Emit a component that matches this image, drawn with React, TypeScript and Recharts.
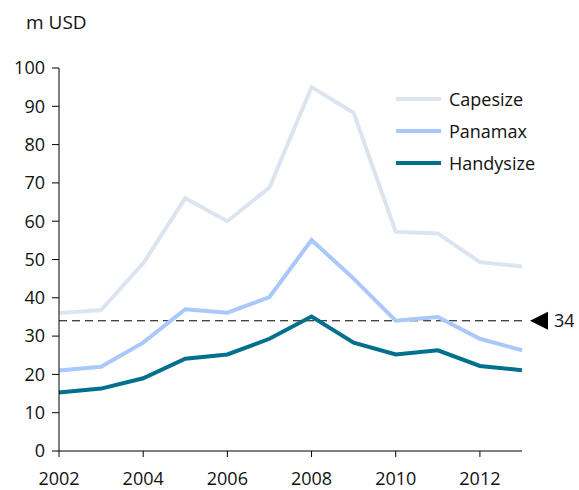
import { LineChart, Line, XAxis, YAxis, ReferenceLine } from "recharts";

const years = [2002, 2003, 2004, 2005, 2006, 2007, 2008, 2009, 2010, 2011, 2012, 2013];
const capesize = [36, 36.8, 49, 66, 60, 68.8, 95, 88.3, 57.2, 56.8, 49.3, 48.2];
const panamax = [21, 22, 28.3, 37, 36.1, 40.2, 55.1, 45, 34, 35, 29.3, 26.3];
const handysize = [15.3, 16.3, 19, 24.1, 25.2, 29.3, 35.1, 28.3, 25.2, 26.3, 22.2, 21.1];
const xTicks = [2002, 2004, 2006, 2008, 2010, 2012];
const yTicks = [0, 10, 20, 30, 40, 50, 60, 70, 80, 90, 100];
const threshold = 34;

const series = [
	{ key: "capesize", name: "Capesize", color: "#dce4f0" },
	{ key: "panamax", name: "Panamax", color: "#a9c8fb" },
	{ key: "handysize", name: "Handysize", color: "#00708d" },
];

const data = years.map((year, i) => ({
	year,
	capesize: capesize[i],
	panamax: panamax[i],
	handysize: handysize[i],
}));

const FONT = "'Open Sans', sans-serif";
const FONT_SIZE = 18;

function LegendBox() {
	return (
		<div
			style={{
				position: "absolute",
				left: 396,
				top: 83,
				fontFamily: FONT,
				fontSize: FONT_SIZE,
				color: "#111",
			}}
		>
			{series.map((s) => (
				<div
					key={s.key}
					style={{ display: "flex", alignItems: "center", height: 32 }}
				>
					<div
						style={{
							width: 45,
							height: 4,
							background: s.color,
							marginRight: 8,
						}}
					/>
					<span>{s.name}</span>
				</div>
			))}
		</div>
	);
}

function ThresholdMark(props: any) {
	const { viewBox } = props;
	const x = viewBox.x + viewBox.width;
	const y = viewBox.y;
	return (
		<g>
			<polygon
				points={`${x + 8},${y} ${x + 26},${y - 9} ${x + 26},${y + 9}`}
				fill="#000"
			/>
			<text
				x={x + 32}
				y={y}
				dy="0.36em"
				fontFamily={FONT}
				fontSize={FONT_SIZE}
				fill="#111"
			>
				{threshold}
			</text>
		</g>
	);
}

export default function App() {
	return (
		<div style={{ position: "absolute", left: 0, top: 0, width: 579, height: 490 }}>
			<div
				style={{
					position: "absolute",
					left: 26,
					top: 9,
					fontFamily: FONT,
					fontSize: 19,
					color: "#111",
				}}
			>
				m USD
			</div>
			<LineChart
				width={579}
				height={490}
				data={data}
				margin={{ top: 68, right: 57, left: 0, bottom: 0 }}
			>
				<XAxis
					dataKey="year"
					type="number"
					domain={[2002, 2013]}
					ticks={xTicks}
					interval={0}
					height={39}
					tickSize={6}
					tickMargin={15}
					stroke="#000"
					tick={{ fill: "#111", fontFamily: FONT, fontSize: FONT_SIZE }}
				/>
				<YAxis
					domain={[0, 100]}
					ticks={yTicks}
					interval={0}
					width={59}
					tickSize={7}
					tickMargin={7}
					stroke="#000"
					tick={{ fill: "#111", fontFamily: FONT, fontSize: FONT_SIZE }}
				/>
				<ReferenceLine
					y={threshold}
					stroke="#000"
					strokeWidth={1}
					strokeDasharray="8 5"
					label={<ThresholdMark />}
				/>
				{series.map((s) => (
					<Line
						key={s.key}
						dataKey={s.key}
						name={s.name}
						stroke={s.color}
						strokeWidth={4}
						dot={false}
						type="linear"
						isAnimationActive={false}
					/>
				))}
			</LineChart>
			<LegendBox />
		</div>
	);
}
